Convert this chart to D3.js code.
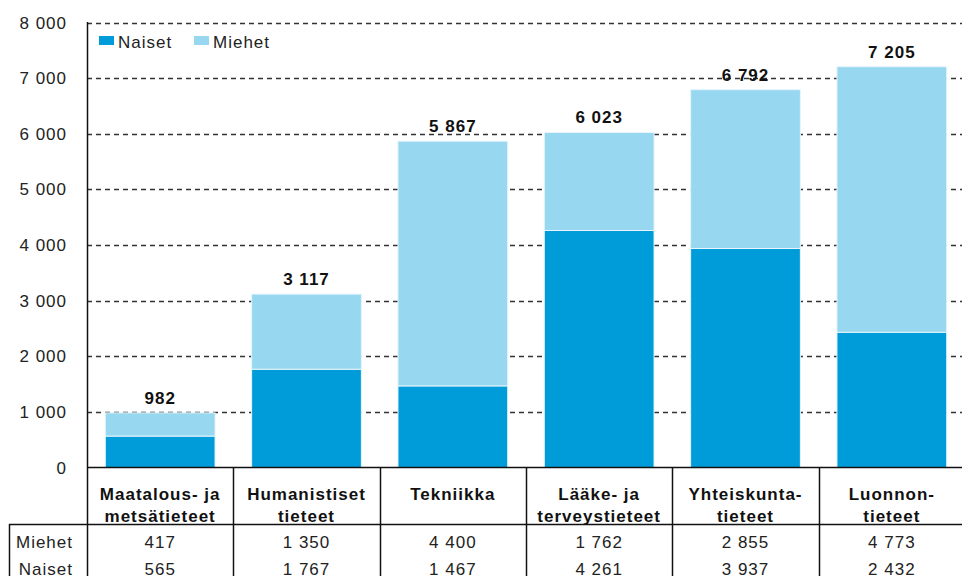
<!DOCTYPE html>
<html>
<head>
<meta charset="utf-8">
<script src="https://cdn.jsdelivr.net/npm/d3@7"></script>
<style>
  body { margin: 0; background: #fff; }
  text { font-family: "Liberation Sans", Arial, sans-serif; letter-spacing: 1px; }
</style>
</head>
<body>
<div id="chart"></div>
<script>
const categories = ['Maatalous- ja metsätieteet', 'Humanistiset tieteet', 'Tekniikka', 'Lääke- ja terveystieteet', 'Yhteiskuntatieteet', 'Luonnontieteet'];
const categoryLines = [['Maatalous- ja', 'metsätieteet'], ['Humanistiset', 'tieteet'], ['Tekniikka'], ['Lääke- ja', 'terveystieteet'], ['Yhteiskunta-', 'tieteet'], ['Luonnon-', 'tieteet']];
const naiset = [565, 1767, 1467, 4261, 3937, 2432];
const miehet = [417, 1350, 4400, 1762, 2855, 4773];
const yTicks = [0, 1000, 2000, 3000, 4000, 5000, 6000, 7000, 8000];
const seriesNames = ['Naiset', 'Miehet'];
const colors = { Naiset: '#009cd9', Miehet: '#98d7f0' };

const width = 962;
const height = 576;

const locale = d3.formatLocale({ decimal: ',', thousands: ' ', grouping: [3] });
const fmt = locale.format(',d');

const rows = categories.map((c, i) => ({ cat: c, Naiset: naiset[i], Miehet: miehet[i] }));
const stacked = d3.stack().keys(seriesNames)(rows);

const svg = d3.select('#chart')
  .append('svg')
    .attr('width', width)
    .attr('height', height);

const x = d3.scaleBand()
  .domain(categories)
  .range([87, 965])
  .paddingInner(0.25)
  .paddingOuter(0.125);
const step = x.step();

const y = d3.scaleLinear()
  .domain([0, 8000])
  .range([467.5, 22.5]);

// gridlines
svg.append('g')
  .selectAll('line')
  .data(yTicks.filter(t => t > 0))
  .enter()
  .append('line')
    .attr('x1', 87)
    .attr('x2', width)
    .attr('y1', d => Math.round(y(d)) + 0.5)
    .attr('y2', d => Math.round(y(d)) + 0.5)
    .attr('stroke', '#333')
    .attr('stroke-width', 1.5)
    .attr('stroke-dasharray', '5,4');

// y tick labels
svg.append('g')
  .selectAll('text')
  .data(yTicks)
  .enter()
  .append('text')
    .attr('x', 67)
    .attr('y', d => y(d) + 6)
    .attr('text-anchor', 'end')
    .style('font-size', '17px')
    .style('fill', '#222')
    .text(d => fmt(d));

// bars
svg.append('g')
  .selectAll('g')
  .data(stacked)
  .enter()
  .append('g')
    .attr('fill', d => colors[d.key])
  .selectAll('rect')
  .data(d => d)
  .enter()
  .append('rect')
    .attr('x', d => x(d.data.cat))
    .attr('y', d => y(d[1]))
    .attr('width', x.bandwidth())
    .attr('height', d => y(d[0]) - y(d[1]))
    .attr('stroke', '#e6f5fb')
    .attr('stroke-width', 1);

// totals
svg.append('g')
  .selectAll('text')
  .data(rows)
  .enter()
  .append('text')
    .attr('x', d => x(d.cat) + x.bandwidth() / 2)
    .attr('y', d => y(d.Naiset + d.Miehet) - 9)
    .attr('text-anchor', 'middle')
    .style('font-size', '17px')
    .style('font-weight', 'bold')
    .style('fill', '#111')
    .text(d => fmt(d.Naiset + d.Miehet));

// legend
const legend = svg.append('g');
const legendX = [99, 194];
seriesNames.forEach((s, i) => {
  legend.append('rect')
    .attr('x', legendX[i])
    .attr('y', 36)
    .attr('width', 15)
    .attr('height', 9)
    .attr('fill', colors[s]);
  legend.append('text')
    .attr('x', legendX[i] + 19)
    .attr('y', 48)
    .style('font-size', '17px')
    .style('fill', '#222')
    .text(s);
});

// axis + table lines
const lines = svg.append('g').attr('stroke', '#111').attr('stroke-width', 1.5);
lines.append('line').attr('x1', 87.5).attr('x2', 87.5).attr('y1', 22).attr('y2', height);
lines.append('line').attr('x1', 87).attr('x2', width).attr('y1', 467.5).attr('y2', 467.5);
lines.append('line').attr('x1', 9).attr('x2', width).attr('y1', 524.5).attr('y2', 524.5);
lines.append('line').attr('x1', 9.5).attr('x2', 9.5).attr('y1', 524).attr('y2', height);
lines.selectAll('.col')
  .data(categories.slice(1))
  .enter()
  .append('line')
    .attr('x1', d => Math.round(x(d) - step * 0.125) + 0.5)
    .attr('x2', d => Math.round(x(d) - step * 0.125) + 0.5)
    .attr('y1', 467)
    .attr('y2', height);

// category labels
const catG = svg.append('g')
  .selectAll('text')
  .data(categories)
  .enter()
  .append('text')
    .attr('text-anchor', 'middle')
    .style('font-size', '17px')
    .style('font-weight', 'bold')
    .style('fill', '#111');
catG.selectAll('tspan')
  .data((d, i) => categoryLines[i].map(l => ({ cat: d, l })))
  .enter()
  .append('tspan')
    .attr('x', d => x(d.cat) + x.bandwidth() / 2)
    .attr('y', (d, j) => 500 + j * 21.5)
    .text(d => d.l);

// table rows
const tableRows = [['Miehet', miehet, 548], ['Naiset', naiset, 575]];
tableRows.forEach(([name, vals, yy]) => {
  svg.append('text')
    .attr('x', 73)
    .attr('y', yy)
    .attr('text-anchor', 'end')
    .style('font-size', '17px')
    .style('fill', '#222')
    .text(name);
  svg.append('g')
    .selectAll('text')
    .data(vals)
    .enter()
    .append('text')
      .attr('x', (d, i) => x(categories[i]) + x.bandwidth() / 2)
      .attr('y', yy)
      .attr('text-anchor', 'middle')
      .style('font-size', '17px')
      .style('fill', '#222')
      .text(d => fmt(d));
});
</script>
</body>
</html>
